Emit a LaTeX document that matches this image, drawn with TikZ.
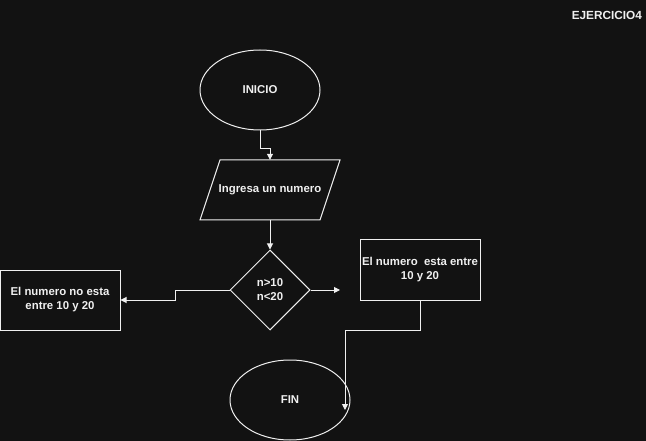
\documentclass[tikz,border=0pt]{standalone}
\usepackage{fontspec}
\setmainfont{Liberation Sans}
\usetikzlibrary{shapes.geometric,arrows.meta}
\definecolor{bg}{RGB}{18,18,18}
\definecolor{fg}{RGB}{240,240,240}
\tikzset{
  lbl/.style={text=fg,font=\bfseries\fontsize{11.4}{14}\selectfont,align=center},
  oval/.style={ellipse,draw=fg,line width=1pt,minimum width=120pt,minimum height=80pt,inner sep=0pt,lbl},
  boxnode/.style={rectangle,draw=fg,line width=1pt,minimum width=120pt,minimum height=60pt,inner sep=0pt,lbl},
  decision/.style={diamond,draw=fg,line width=1pt,minimum width=80pt,minimum height=80pt,inner sep=0pt,lbl},
  ionode/.style={rectangle,minimum width=120pt,minimum height=60pt,inner sep=0pt,lbl},
  conn/.style={draw=fg,line width=1pt,-{Triangle[length=6pt,width=6pt]}}
}
\begin{document}
\begin{tikzpicture}[x=1pt,y=-1pt]
\path[fill=bg,use as bounding box] (0,0) rectangle (646,441);
\node[text=fg,font=\bfseries\fontsize{11.8}{14}\selectfont,anchor=east] (title) at (645.5,15) {EJERCICIO4};
\node[oval] (inicio) at (260,90) {INICIO};
\node[ionode] (inp) at (270,190) {Ingresa un numero};
\draw[fg,line width=1pt] (220,160) -- (340,160) -- (320,220) -- (200,220) -- cycle;
\node[decision] (dec) at (270,290) {n>10\\n<20};
\node[boxnode] (no) at (60,300) {El numero no esta\\entre 10 y 20};
\node[boxnode] (si) at (420,270) {El numero\ \ esta entre\\10 y 20};
\node[oval] (fin) at (290,400) {FIN};
\coordinate (siend) at (340,290);
\coordinate (finend) at (345,410);
\path[conn] (inicio.south) |- (270,149) -- (inp.north);
\path[conn] (inp.south) -- (dec.north);
\path[conn] (dec.west) -- (175,290) |- (no.east);
\path[conn] (dec.east) -- (siend);
\path[conn] (si.south) |- (345,330) -- (finend);
\end{tikzpicture}
\end{document}
